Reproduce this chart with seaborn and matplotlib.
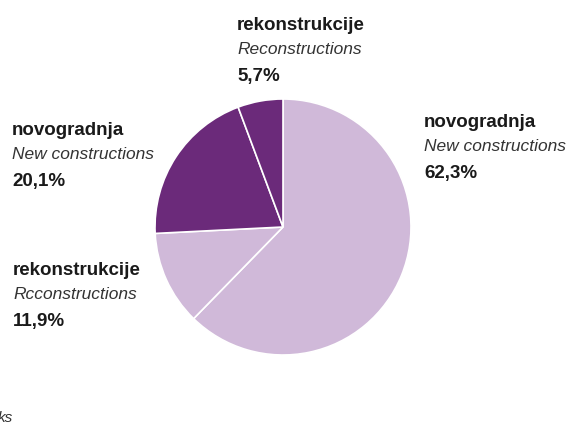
import matplotlib
matplotlib.use("Agg")
import matplotlib.pyplot as plt
import seaborn as sns

# Data
values = [62.3, 11.9, 20.1, 5.7]
labels_hr = ["novogradnja", "rekonstrukcije", "novogradnja", "rekonstrukcije"]
labels_en = ["New constructions", "Rcconstructions", "New constructions", "Reconstructions"]
pct_labels = ["62,3%", "11,9%", "20,1%", "5,7%"]
colors = ["#d0b9d9", "#d0b9d9", "#6b2a7a", "#6b2a7a"]

sns.set_theme(style="white")
plt.rcParams['font.family'] = ['Liberation Sans', 'DejaVu Sans']

W, H = 566, 427
fig = plt.figure(figsize=(W / 100, H / 100), dpi=100)
ax = fig.add_axes([0, 0, 1, 1])
ax.set_xlim(0, W)
ax.set_ylim(0, H)
ax.set_aspect('equal')
ax.axis('off')

ax.pie(values, colors=colors, startangle=90, counterclock=False,
       center=(283, H - 228), radius=128,
       wedgeprops=dict(edgecolor='white', linewidth=1.2))
ax.set_xlim(0, W)
ax.set_ylim(0, H)

# label anchor positions (top-left of text block, pixels from top)
label_pos = [(424, 114), (13, 262), (12, 122), (237, 17)]
for (x, y), hr, en, pc in zip(label_pos, labels_hr, labels_en, pct_labels):
    ax.text(x, H - y, hr, fontsize=13.5, fontweight='bold', color='#1a1a1a', va='top', ha='left')
    ax.text(x, H - y - 25, en, fontsize=12.5, fontstyle='italic', color='#333333', va='top', ha='left')
    ax.text(x, H - y - 51, pc, fontsize=13.5, fontweight='bold', color='#1a1a1a', va='top', ha='left')

ax.text(-2, H - 411, "ks", fontsize=11, fontstyle='italic', color='#333333', va='top', ha='left')

fig.savefig("out.png", dpi=100)
